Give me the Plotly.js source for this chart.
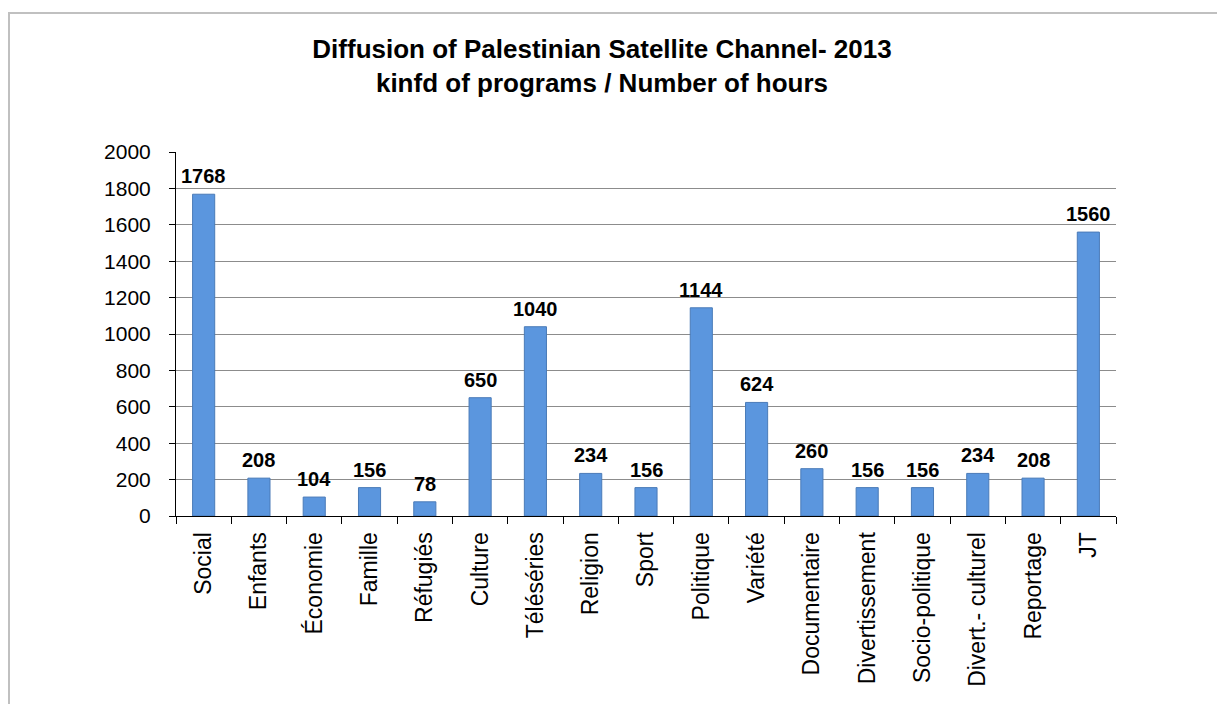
<!DOCTYPE html>
<html>
<head>
<meta charset="utf-8">
<script src="https://cdn.plot.ly/plotly-3.0.1.min.js"></script>
<style>
  html, body { margin: 0; padding: 0; background: #fff; }
  #frame { position: absolute; left: 8px; top: 12px; width: 1220px; height: 720px; border-left: 2px solid #c0c0c0; border-top: 2px solid #c0c0c0; }
  #chart { position: absolute; left: 0; top: 0; width: 1217px; height: 704px; }
</style>
</head>
<body>
<div id="frame"></div>
<div id="chart"></div>
<script>
const categories = ["Social", "Enfants", "Économie", "Famille", "Réfugiés", "Culture", "Téléséries", "Religion", "Sport", "Politique", "Variété", "Documentaire", "Divertissement", "Socio-politique", "Divert.- culturel", "Reportage", "JT"];
const hours = [1768, 208, 104, 156, 78, 650, 1040, 234, 156, 1144, 624, 260, 156, 156, 234, 208, 1560];
const yTicks = [0, 200, 400, 600, 800, 1000, 1200, 1400, 1600, 1800, 2000];

const FONT = "Arial, 'Liberation Sans', sans-serif";

const trace = {
  type: "bar",
  x: categories,
  y: hours,
  marker: { color: "#5b96de", line: { color: "#4a7bb8", width: 1 } },
  hoverinfo: "x+y"
};

const annotations = categories.map((c, i) => ({
  x: c, y: hours[i], xref: "x", yref: "y",
  text: String(hours[i]),
  showarrow: false, yanchor: "bottom", yshift: 5,
  font: { family: FONT, size: 20, color: "#000", weight: "bold" }
}));

const layout = {
  width: 1217, height: 704,
  margin: { l: 176, r: 101, t: 152, b: 188, pad: 0 },
  paper_bgcolor: "rgba(0,0,0,0)",
  plot_bgcolor: "rgba(0,0,0,0)",
  showlegend: false,
  bargap: 0.6,
  title: {
    text: "<b>Diffusion of Palestinian Satellite Channel- 2013<br>kinfd of programs / Number of hours</b>",
    font: { family: FONT, size: 26, color: "#000" },
    x: 602 / 1217, xanchor: "center", xref: "container",
    y: 1 - 58 / 704, yanchor: "top", yref: "container"
  },
  xaxis: {
    type: "category",
    tickson: "boundaries",
    ticks: "outside", ticklen: 7, tickcolor: "#000", tickwidth: 1,
    showline: true, linecolor: "#000", linewidth: 1,
    showgrid: false,
    tickangle: -90,
    tickfont: { family: FONT, size: 23, color: "#000" },
    ticklabelstandoff: 6
  },
  yaxis: {
    range: [0, 2000],
    tickvals: yTicks,
    ticktext: yTicks.map(String),
    ticks: "outside", ticklen: 6, tickcolor: "#000", tickwidth: 1,
    showline: true, linecolor: "#000", linewidth: 1,
    showgrid: true, gridcolor: "#8c8c8c", gridwidth: 1,
    zeroline: false,
    tickfont: { family: FONT, size: 21, color: "#000" },
    ticklabelstandoff: 14
  },
  annotations: annotations
};

Plotly.newPlot("chart", [trace], layout, { displayModeBar: false, staticPlot: true });
</script>
</body>
</html>
